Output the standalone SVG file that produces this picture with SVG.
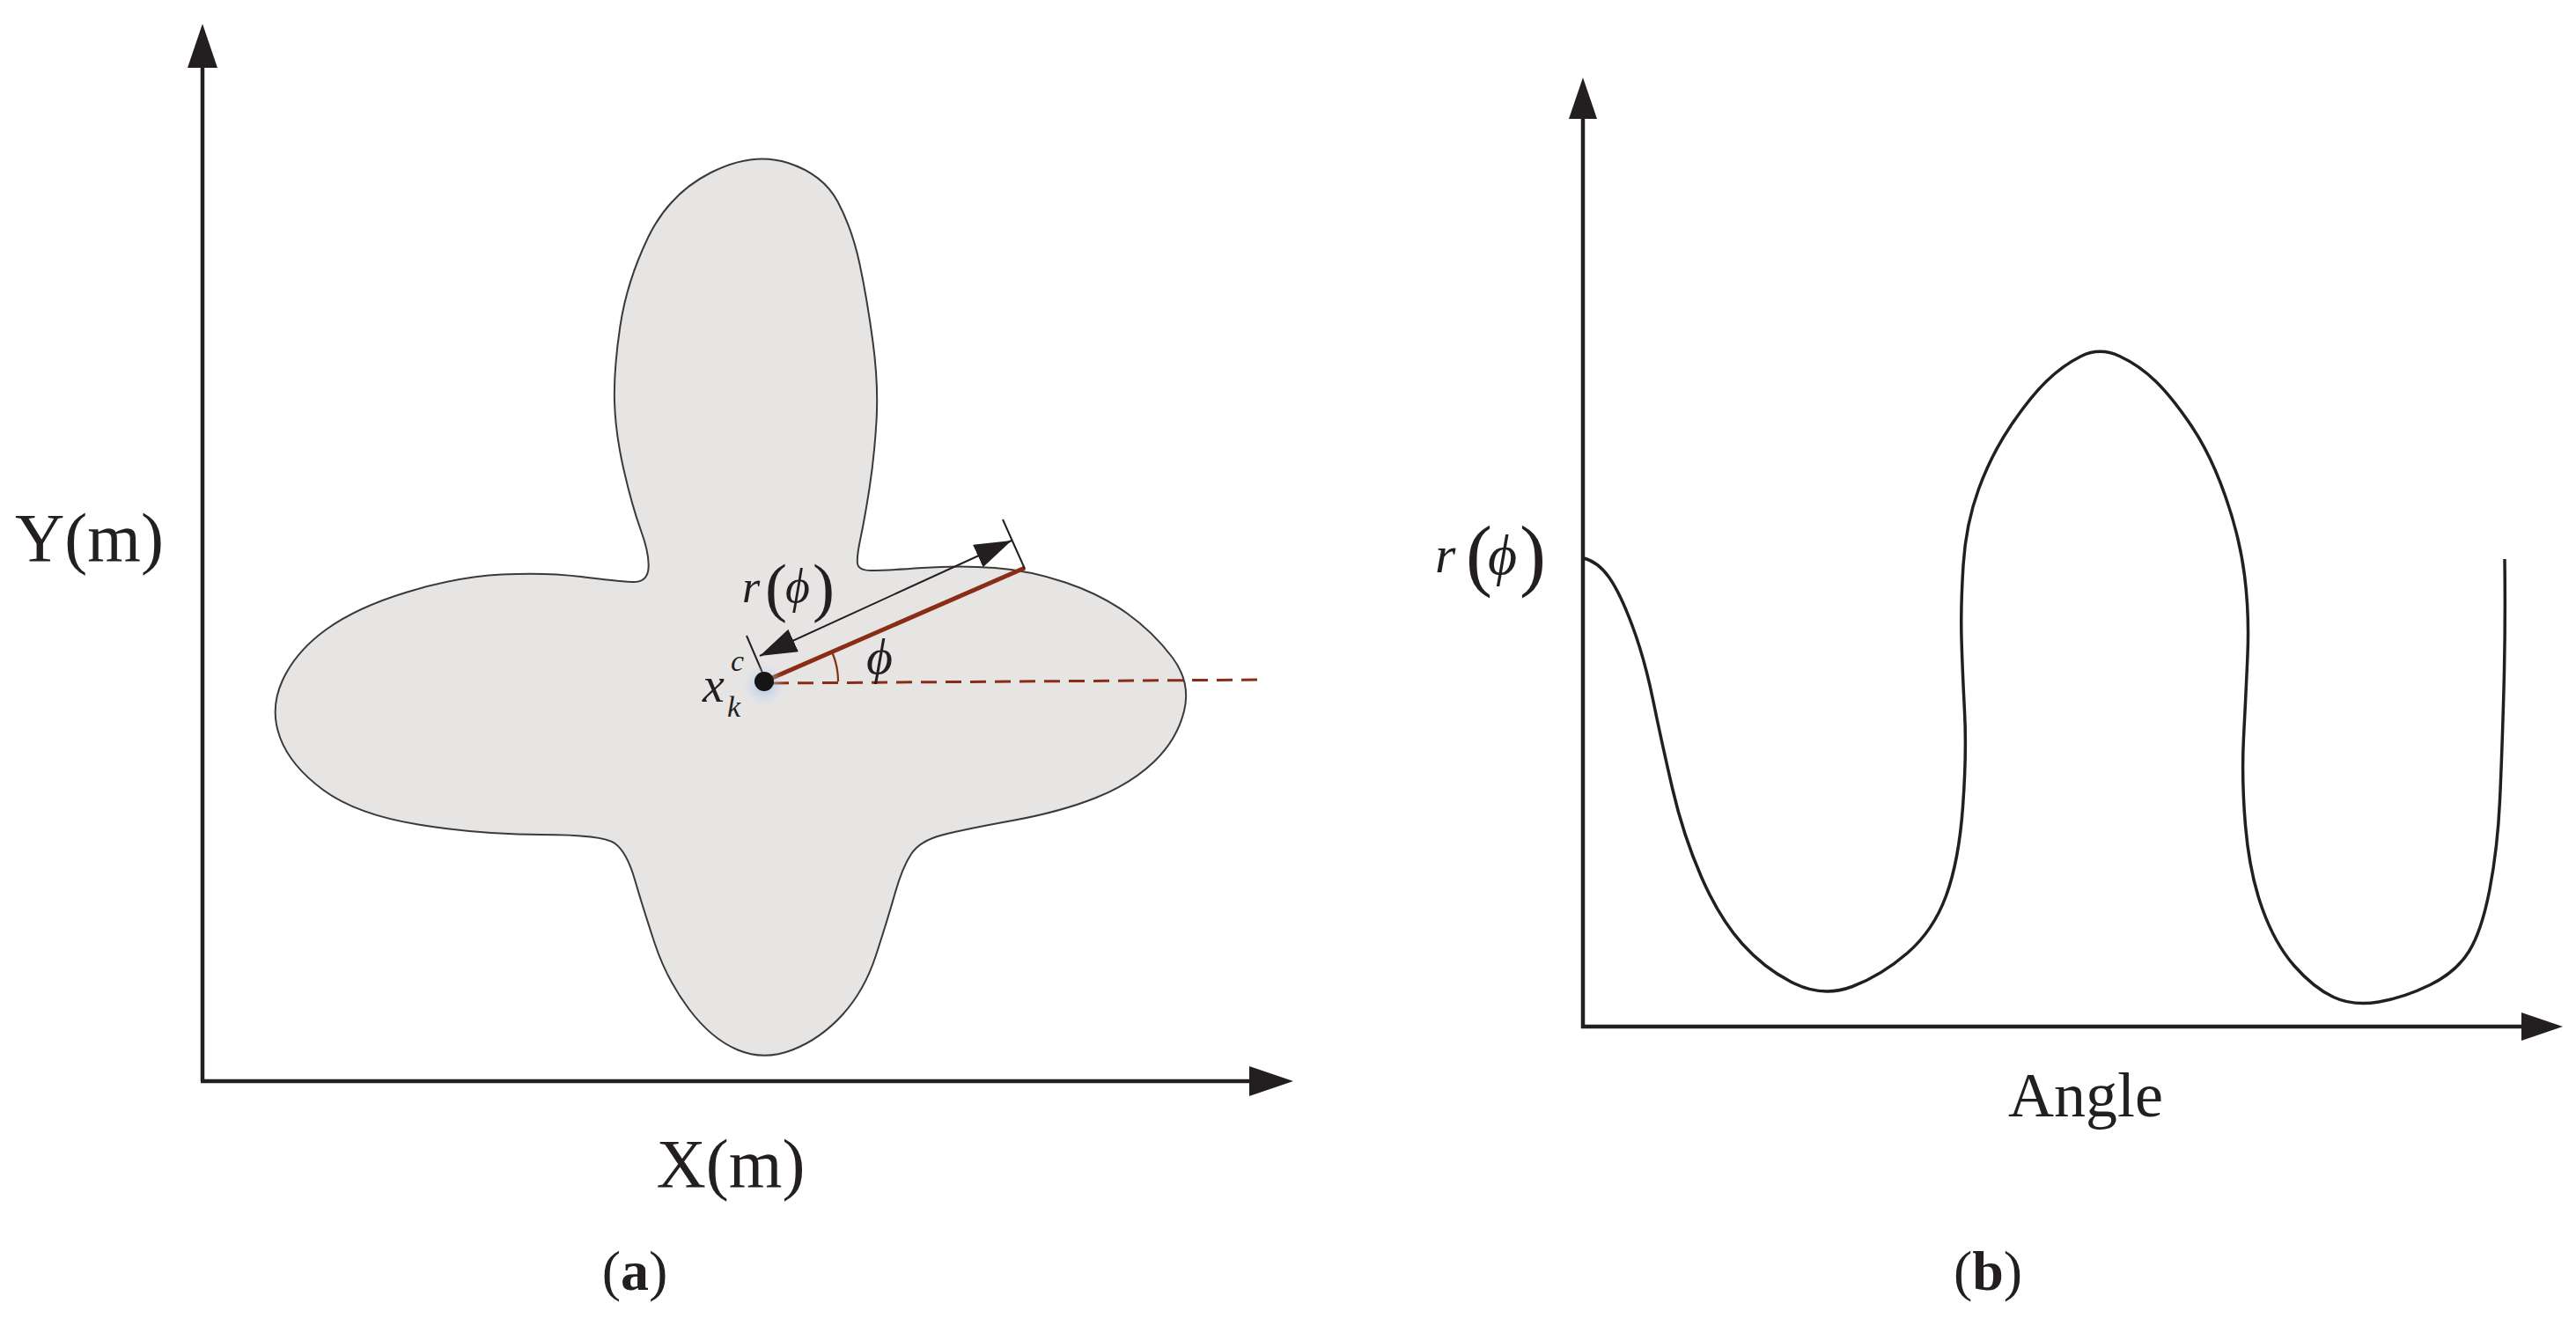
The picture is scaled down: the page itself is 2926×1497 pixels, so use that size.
<svg xmlns="http://www.w3.org/2000/svg" width="2926" height="1497" viewBox="0 0 2926 1497">
  <style>
    .axis { stroke: #231f20; stroke-width: 4.5; fill: none; }
    .lbl { font-family: "Liberation Serif", "Times New Roman", serif; fill: #231f20; }
    .it { font-style: italic; }
    .red { stroke: #8a2d16; fill: none; }
    .curve { stroke: #231f20; stroke-width: 3.5; fill: none; stroke-linejoin: round; }
  </style>
  <defs>
    <marker id="arrA" viewBox="0 0 50 34" markerWidth="50" markerHeight="34" refX="0" refY="17" orient="auto" markerUnits="userSpaceOnUse">
      <path d="M0,0 L50,17 L0,34 Z" fill="#231f20"/>
    </marker>
    <marker id="arrB" viewBox="0 0 47 32" markerWidth="47" markerHeight="32" refX="0" refY="16" orient="auto" markerUnits="userSpaceOnUse">
      <path d="M0,0 L47,16 L0,32 Z" fill="#231f20"/>
    </marker>
    <marker id="dimArr" viewBox="0 0 42 28" markerWidth="42" markerHeight="28" refX="42" refY="14" orient="auto-start-reverse" markerUnits="userSpaceOnUse">
      <path d="M0,0 L42,14 L0,28 Z" fill="#231f20"/>
    </marker>
    <radialGradient id="glow" cx="0.5" cy="0.5" r="0.5">
      <stop offset="0" stop-color="#9fb8e6" stop-opacity="0.8"/>
      <stop offset="1" stop-color="#c8d6f0" stop-opacity="0"/>
    </radialGradient>
  </defs>

  <!-- Panel (a) -->
  <g id="panel-a">
    <g id="shape">
      <path fill="#e6e5e4" stroke="#3a3a3a" stroke-width="2" d="M807.5,196 Q855,172 895,185 Q935,198 951.5,229 Q968,260 976.5,300 Q985,340 991.5,388.5 Q998,437 995.5,478.5 Q993,520 987.5,555 Q982,590 977.5,611 Q973,632 974,640 Q975,648 990,648 Q1005,648 1047.5,645 Q1090,642 1130,645 Q1170,648 1210,661.5 Q1250,675 1280,696.5 Q1310,718 1331.5,746.5 Q1353,775 1345,807.5 Q1337,840 1311,865 Q1285,890 1245,906 Q1205,922 1150,932 Q1095,942 1070,948.5 Q1045,955 1035,970 Q1025,985 1016.5,1015 Q1008,1045 995,1085 Q982,1125 957,1152.5 Q932,1180 900,1192.5 Q868,1205 838,1192.5 Q808,1180 782.5,1146 Q757,1112 743.5,1071 Q730,1030 721,999 Q712,968 698.5,958 Q685,948 615,948 Q545,948 475,936.5 Q405,925 367.5,897.5 Q330,870 318,837.5 Q306,805 321,772.5 Q336,740 370.5,715 Q405,690 462.5,672.5 Q520,655 570,652.5 Q620,650 660,655 Q700,660 717.5,661 Q735,662 736.5,646 Q738,630 728,602.5 Q718,575 708.5,533.5 Q699,492 698,456 Q697,420 704.5,370 Q712,320 736,270 Q760,220 807.5,196 Z"/>
    </g>
    <g id="axes-a">
      <line class="axis" x1="230" y1="1228" x2="230" y2="77" marker-end="url(#arrA)"/>
      <line class="axis" x1="228" y1="1228" x2="1419" y2="1228" marker-end="url(#arrA)"/>
    </g>
    <g id="annotations-a">
      <line class="red" stroke-width="3" stroke-dasharray="18 10" x1="878" y1="776" x2="1437" y2="772"/>
      <path class="red" stroke-width="2.2" d="M945,740.5 A84,84 0 0 1 952,774"/>
      <line class="red" stroke-width="5" x1="868" y1="774" x2="1164" y2="645"/>
      <line stroke="#231f20" stroke-width="2" x1="848" y1="722" x2="866" y2="764"/>
      <line stroke="#231f20" stroke-width="2" x1="1139" y1="590" x2="1164" y2="646"/>
      <line stroke="#231f20" stroke-width="2" x1="863" y1="745" x2="1149" y2="614" marker-start="url(#dimArr)" marker-end="url(#dimArr)"/>
      <circle cx="868" cy="778" r="24" fill="url(#glow)"/>
      <circle cx="868" cy="774" r="11" fill="#151515"/>
    </g>
    <g id="labels-a">
      <text class="lbl" x="17" y="637" font-size="78">Y(m)</text>
      <text class="lbl" x="830" y="1348" font-size="78" text-anchor="middle">X(m)</text>
      <text class="lbl" x="721" y="1465" font-size="64" text-anchor="middle">(<tspan font-weight="bold">a</tspan>)</text>
      <text class="lbl it" x="843" y="684" font-size="52">r</text>
      <text class="lbl" x="869" y="692" font-size="75">(</text>
      <text class="lbl it" x="892" y="684" font-size="54">ϕ</text>
      <text class="lbl" x="923" y="692" font-size="75">)</text>
      <text class="lbl it" x="984" y="765" font-size="58">ϕ</text>
      <text class="lbl it" x="798" y="797" font-size="56">x</text>
      <text class="lbl it" x="830" y="762" font-size="34">c</text>
      <text class="lbl it" x="826" y="814" font-size="34">k</text>
    </g>
  </g>

  <!-- Panel (b) -->
  <g id="panel-b">
    <g id="axes-b">
      <line class="axis" x1="1798" y1="1168" x2="1798" y2="135" marker-end="url(#arrB)"/>
      <line class="axis" x1="1796" y1="1166" x2="2864" y2="1166" marker-end="url(#arrB)"/>
    </g>
    <g id="curve-b">
      <path class="curve" d="M1799,634 Q1815,638 1827.5,655.5 Q1840,673 1854,710.5 Q1868,748 1877.5,794.5 Q1887,841 1899.5,895 Q1912,949 1932.5,996 Q1953,1043 1979,1072 Q2005,1101 2038,1117 Q2071,1133 2104,1120.5 Q2137,1108 2166.5,1082.5 Q2196,1057 2210.5,1017.5 Q2225,978 2229.5,916.5 Q2234,855 2231.5,808 Q2229,761 2228,725 Q2227,689 2230,642 Q2233,595 2247.5,555.5 Q2262,516 2284,483.5 Q2306,451 2324.5,433 Q2343,415 2364,404.5 Q2385,394 2407.5,404.5 Q2430,415 2448.5,433 Q2467,451 2489,483.5 Q2511,516 2527.5,563 Q2544,610 2549.5,653.5 Q2555,697 2553,743.5 Q2551,790 2548.5,837 Q2546,884 2550.5,937.5 Q2555,991 2569.5,1031.5 Q2584,1072 2606,1097 Q2628,1122 2650.5,1132.5 Q2673,1143 2702,1138 Q2731,1133 2760.5,1118.5 Q2790,1104 2804.5,1080.5 Q2819,1057 2828,1010 Q2837,963 2839.5,909 Q2842,855 2844,783 Q2846,711 2845,635"/>
    </g>
    <g id="labels-b">
      <text class="lbl it" x="1630" y="650" font-size="60">r</text>
      <text class="lbl" x="1665" y="660" font-size="90">(</text>
      <text class="lbl it" x="1690" y="652" font-size="64">ϕ</text>
      <text class="lbl" x="1726" y="660" font-size="90">)</text>
      <text class="lbl" x="2369" y="1268" font-size="72" text-anchor="middle">Angle</text>
      <text class="lbl" x="2258" y="1465" font-size="64" text-anchor="middle">(<tspan font-weight="bold">b</tspan>)</text>
    </g>
  </g>
</svg>
